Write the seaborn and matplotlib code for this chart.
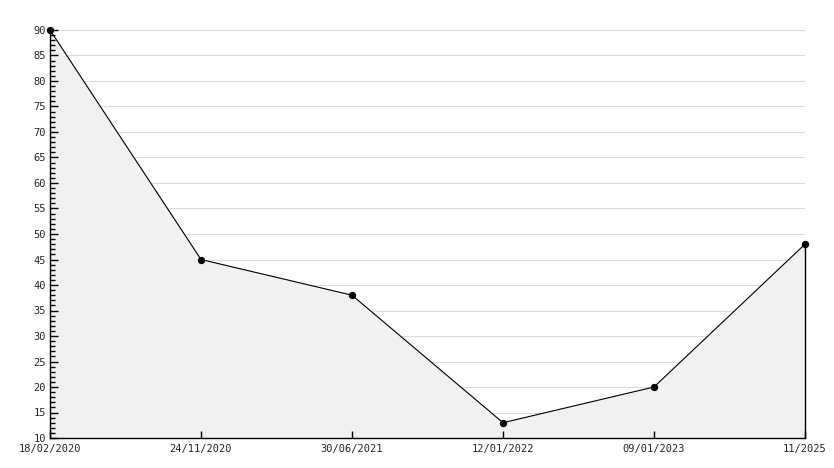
import numpy as np
import pandas as pd
import matplotlib
matplotlib.use("Agg")
import matplotlib.pyplot as plt
import seaborn as sns
from matplotlib.ticker import MultipleLocator

dates = ["18/02/2020", "24/11/2020", "30/06/2021", "12/01/2022", "09/01/2023", "11/2025"]
values = [90, 45, 38, 13, 20, 48]

df = pd.DataFrame({"pos": range(len(dates)), "value": values})

sns.set_style("white")
plt.rcParams["font.family"] = ["DejaVu Sans Mono"]

fig = plt.figure(figsize=(8.34, 4.68), dpi=100)
ax = fig.add_axes([50 / 834, 30 / 468, 755 / 834, 408 / 468])

ax.set_xlim(0, len(dates) - 1)
ax.set_ylim(10, 90)
ax.yaxis.set_major_locator(MultipleLocator(5))
ax.yaxis.set_minor_locator(MultipleLocator(1))

# gridlines under the filled area
ax.hlines(ax.get_yticks(), 0, len(dates) - 1, color="#dcdcdc", lw=0.8, zorder=0)
ax.fill_between(df["pos"], df["value"], 10, color="#f1f1f1", zorder=1)
ax.plot([df["pos"].iloc[-1]] * 2, [10, values[-1]], color="black", lw=1,
        zorder=2, clip_on=False)
sns.lineplot(data=df, x="pos", y="value", color="black", lw=0.8, marker="o",
             markersize=4.5, markeredgecolor="black", ax=ax, zorder=3, clip_on=False)

ax.set_xlim(0, len(dates) - 1)
ax.set_ylim(10, 90)
ax.set_xticks(df["pos"])
ax.set_xticklabels(dates, fontsize=7.5)
ax.tick_params(axis="y", which="major", direction="in", length=6, width=1,
               labelsize=7.5, pad=3, left=True, color="black")
ax.tick_params(axis="y", which="minor", direction="in", length=3.5, width=1,
               left=True, color="black")
ax.tick_params(axis="x", direction="in", length=5, width=1, pad=4,
               bottom=True, color="black")
ax.grid(False)
ax.set_axisbelow(False)
ax.set_xlabel("")
ax.set_ylabel("")
for s in ["top", "right"]:
    ax.spines[s].set_visible(False)
for s in ["left", "bottom"]:
    ax.spines[s].set_color("black")
    ax.spines[s].set_linewidth(1)

fig.savefig("out.png", dpi=100)
